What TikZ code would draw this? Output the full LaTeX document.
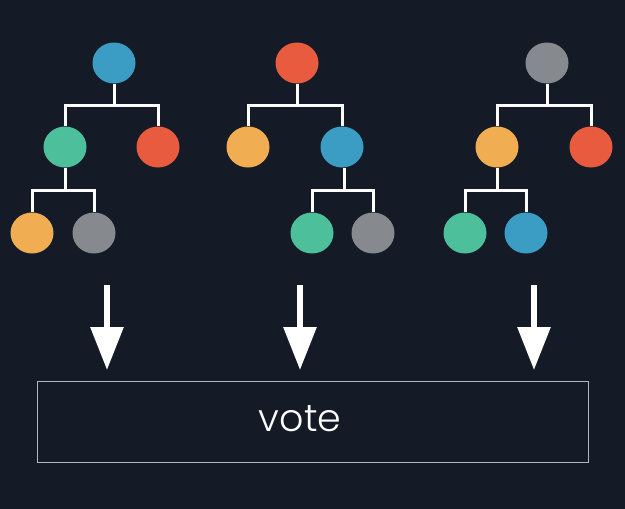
\documentclass[tikz,border=0pt]{standalone}
\usepackage{fontspec}
\setmainfont{Poppins}
\newfontfamily\votefont{Poppins Light}
\usetikzlibrary{shapes.geometric,arrows.meta}
\definecolor{bg}{HTML}{141A26}
\definecolor{cblue}{HTML}{3B9DC4}
\definecolor{cgreen}{HTML}{4DC09B}
\definecolor{cred}{HTML}{E95B3E}
\definecolor{corange}{HTML}{F1AD51}
\definecolor{cgray}{HTML}{868A8E}
\definecolor{boxline}{HTML}{B4B8BC}
\tikzset{
  leaf/.style={ellipse, minimum width=43pt, minimum height=41pt, inner sep=0pt, draw=none},
  conn/.style={draw=white, line width=3pt},
  bigarrow/.style={draw=white, fill=white, line width=6pt, -{Triangle[width=32pt,length=43pt]}},
  votebox/.style={draw=boxline, line width=0.9pt, fill=none},
}
\begin{document}
\begin{tikzpicture}[x=1pt,y=-1pt]
\fill[bg] (0,0) rectangle (625,509);
\useasboundingbox (0,0) rectangle (625,509);

% Tree 1
\node[leaf, fill=cblue]   (t1r)  at (114,63) {};
\node[leaf, fill=cgreen]  (t1a)  at (65,147) {};
\node[leaf, fill=cred]    (t1b)  at (158,147) {};
\node[leaf, fill=corange] (t1aa) at (32,233) {};
\node[leaf, fill=cgray]   (t1ab) at (94,233) {};
\coordinate (t1j)  at (114,105);
\coordinate (t1aj) at (65,190);
\draw[conn] (t1r.south) -- (t1j);
\draw[conn] (t1a.north) |- (t1j) -| (t1b.north);
\draw[conn] (t1a.south) -- (t1aj);
\draw[conn] (t1aa.north) |- (t1aj) -| (t1ab.north);

% Tree 2
\node[leaf, fill=cred]    (t2r)  at (297,63) {};
\node[leaf, fill=corange] (t2a)  at (248,147) {};
\node[leaf, fill=cblue]   (t2b)  at (342,147) {};
\node[leaf, fill=cgreen]  (t2ba) at (312,233) {};
\node[leaf, fill=cgray]   (t2bb) at (373,233) {};
\coordinate (t2j)  at (297,105);
\coordinate (t2bj) at (344,190);
\draw[conn] (t2r.south) -- (t2j);
\draw[conn] (t2a.north) |- (t2j) -| (t2b.north);
\draw[conn] (t2b.south -| t2bj) -- (t2bj);
\draw[conn] (t2ba.north) |- (t2bj) -| (t2bb.north);

% Tree 3
\node[leaf, fill=cgray]   (t3r)  at (547,63) {};
\node[leaf, fill=corange] (t3a)  at (497,147) {};
\node[leaf, fill=cred]    (t3b)  at (591,147) {};
\node[leaf, fill=cgreen]  (t3aa) at (465,233) {};
\node[leaf, fill=cblue]   (t3ab) at (526,233) {};
\coordinate (t3j)  at (547,105);
\coordinate (t3aj) at (497,190);
\draw[conn] (t3r.south) -- (t3j);
\draw[conn] (t3a.north) |- (t3j) -| (t3b.north);
\draw[conn] (t3a.south) -- (t3aj);
\draw[conn] (t3aa.north) |- (t3aj) -| (t3ab.north);

% Arrows
\coordinate (a1s) at (107,285); \coordinate (a1e) at (107,370);
\coordinate (a2s) at (300,285); \coordinate (a2e) at (300,370);
\coordinate (a3s) at (534,285); \coordinate (a3e) at (534,370);
\draw[bigarrow] (a1s) -- (a1e);
\draw[bigarrow] (a2s) -- (a2e);
\draw[bigarrow] (a3s) -- (a3e);

% Vote box
\node[votebox, minimum width=551pt, minimum height=81pt, inner sep=0pt] (box) at (312.8,421.8) {};
\node[anchor=base, text=white, inner sep=0pt, font=\votefont\fontsize{38}{40}\selectfont] (vote) at (300,431.5) {vote};
\end{tikzpicture}
\end{document}
